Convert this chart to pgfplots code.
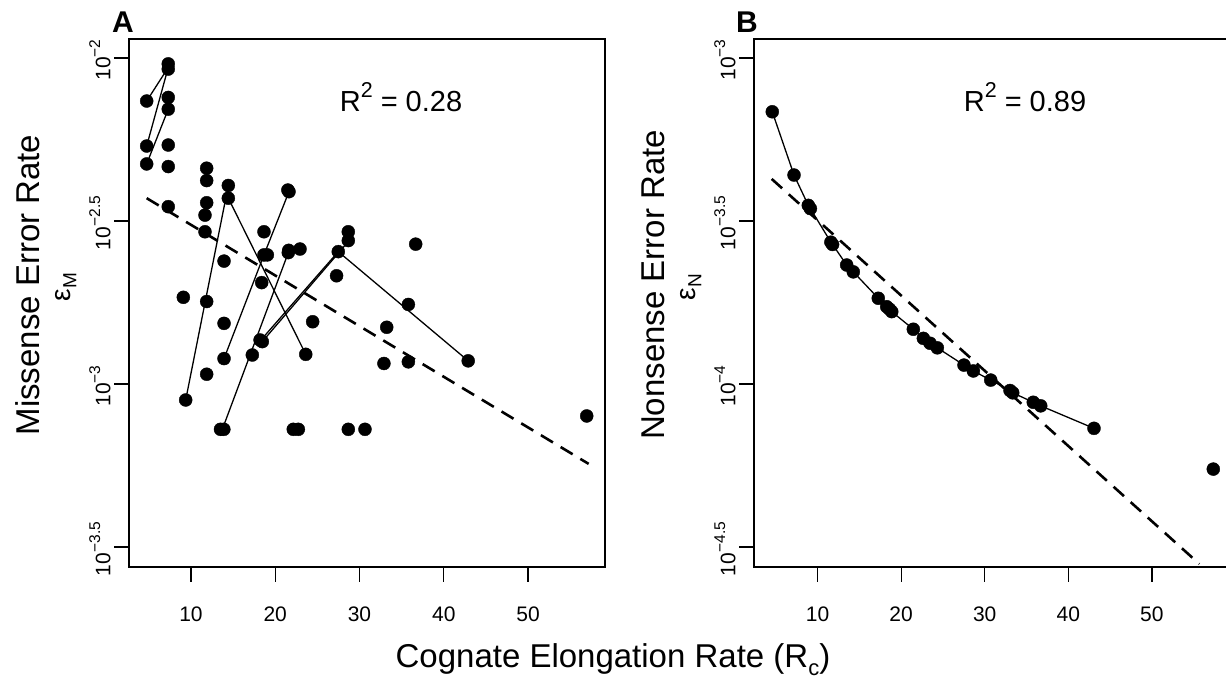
\documentclass[border=0pt]{standalone}
\usepackage{fontspec}
\setmainfont{Liberation Sans}
\usepackage{pgfplots}
\pgfplotsset{compat=1.18}

% superscript in the style of R's plotmath
\newcommand\ex[1]{\raisebox{0.48em}{\scalebox{0.74}{#1}}}

\pgfplotsset{
  rpanel/.style={
    scale only axis, height=528pt,
    axis line style={line width=1.4pt},
    tick style={line width=1.2pt, black},
    tick align=outside, major tick length=15pt,
    xtick pos=bottom, ytick pos=left,
    xtick={10,20,30,40,50},
    tick label style={font=\fontsize{21}{24}\selectfont},
    /pgf/number format/assume math mode=true,
    xticklabel style={anchor=north, yshift=-21pt},
    yticklabel style={rotate=90, anchor=south, xshift=-2pt},
  },
  dots/.style={only marks, mark=*, mark size=6.5pt, mark options={fill=black, draw=black}},
  link/.style={black, line width=1.3pt, no marks},
  fit/.style={black, line width=2.6pt, dash pattern=on 14pt off 9pt, no marks},
}

\begin{document}
\begin{tikzpicture}
% ---- panel A: missense ----
\begin{axis}[rpanel, name=pa, at={(129pt,115pt)}, anchor=south west, width=476pt,
  xmin=2.641, xmax=59.14, ymin=-3.5613, ymax=-1.9417,
  ytick={-3.5,-3,-2.5,-2},
  yticklabels={{10\ex{−3.5}},{10\ex{−3}},{10\ex{−2.5}},{10\ex{−2}}}]
  \addplot[fit] coordinates {(4.74,-2.43) (57.2,-3.245)};
  \addplot[link] coordinates {(4.74,-2.132) (7.3,-2.029)};
  \addplot[link] coordinates {(4.74,-2.27) (7.3,-2.029)};
  \addplot[link] coordinates {(4.74,-2.325) (7.3,-2.157)};
  \addplot[link] coordinates {(9.37,-3.049) (14.43,-2.391)};
  \addplot[link] coordinates {(14.43,-2.43) (23.62,-2.909)};
  \addplot[link] coordinates {(13.92,-2.922) (18.66,-2.604)};
  \addplot[link] coordinates {(13.72,-3.139) (21.55,-2.597)};
  \addplot[link] coordinates {(18.66,-2.604) (21.63,-2.41)};
  \addplot[link] coordinates {(18.46,-2.870) (28.67,-2.563)};
  \addplot[link] coordinates {(18.3,-2.865) (27.48,-2.594)};
  \addplot[link] coordinates {(27.48,-2.594) (42.9,-2.929)};
  \addplot[dots] coordinates {
    (4.74,-2.132) (7.3,-2.018) (7.3,-2.034) (7.3,-2.121) (7.3,-2.157)
    (4.74,-2.27) (7.3,-2.267) (4.74,-2.325) (7.3,-2.333) (7.3,-2.456)
    (11.86,-2.338) (11.86,-2.376) (11.86,-2.444) (11.66,-2.482) (11.66,-2.533)
    (14.43,-2.391) (14.43,-2.43) (21.63,-2.41) (21.5,-2.405) (18.66,-2.533)
    (28.67,-2.533) (28.67,-2.56) (27.48,-2.594) (13.92,-2.623) (18.66,-2.604)
    (19.06,-2.604) (21.55,-2.597) (21.6,-2.59) (22.94,-2.586) (9.09,-2.734)
    (11.86,-2.747) (18.39,-2.689) (27.28,-2.668) (13.92,-2.814) (24.44,-2.809)
    (18.46,-2.870) (18.2,-2.865) (13.92,-2.922) (17.28,-2.911) (23.62,-2.909)
    (11.86,-2.970) (9.37,-3.049) (13.5,-3.139) (13.9,-3.139) (22.14,-3.139)
    (22.74,-3.139) (28.67,-3.139) (30.65,-3.139) (36.67,-2.571) (35.8,-2.756)
    (33.23,-2.826) (32.9,-2.937) (35.8,-2.932) (42.9,-2.929) (56.97,-3.098)
  };
\end{axis}
% ---- panel B: nonsense ----
\begin{axis}[rpanel, name=pb, at={(754pt,115pt)}, anchor=south west, width=478pt,
  xmin=2.404, xmax=59.58, ymin=-4.5613, ymax=-2.9417,
  ytick={-4.5,-4,-3.5,-3},
  yticklabels={{10\ex{−4.5}},{10\ex{−4}},{10\ex{−3.5}},{10\ex{−3}}}]
  \addplot[fit] coordinates {(4.52,-3.371) (55.67,-4.552)};
  \addplot[link] coordinates {
    (4.59,-3.165) (7.19,-3.359) (8.9,-3.452) (9.15,-3.462) (11.6,-3.565)
    (11.8,-3.572) (13.49,-3.635) (14.28,-3.656) (17.27,-3.737) (18.28,-3.763)
    (18.6,-3.77) (18.88,-3.778) (21.46,-3.832) (22.66,-3.86) (23.46,-3.875)
    (24.33,-3.889) (27.52,-3.942) (28.64,-3.960) (30.72,-3.988) (33.03,-4.02)
    (33.35,-4.027) (35.81,-4.056) (36.7,-4.067) (43.07,-4.136)
  };
  \addplot[dots] coordinates {
    (4.59,-3.165) (7.19,-3.359) (8.9,-3.452) (9.15,-3.462) (11.6,-3.565)
    (11.8,-3.572) (13.49,-3.635) (14.28,-3.656) (17.27,-3.737) (18.28,-3.763)
    (18.6,-3.77) (18.88,-3.778) (21.46,-3.832) (22.66,-3.86) (23.46,-3.875)
    (24.33,-3.889) (27.52,-3.942) (28.64,-3.960) (30.72,-3.988) (33.03,-4.02)
    (33.35,-4.027) (35.81,-4.056) (36.7,-4.067) (43.07,-4.136) (57.34,-4.261)
  };
\end{axis}
% ---- texts ----
\node[font=\fontsize{29}{32}\selectfont] at (401pt,585pt) {R\ex{2} = 0.28};
\node[font=\fontsize{29}{32}\selectfont] at (1025pt,585pt) {R\ex{2} = 0.89};
\node[font=\fontsize{30}{32}\selectfont\bfseries] at (123pt,660pt) {A};
\node[font=\fontsize{30}{32}\selectfont\bfseries] at (747pt,660pt) {B};
\node[rotate=90, font=\fontsize{33}{36}\selectfont] at (28pt,397pt) {Missense Error Rate};
\node[rotate=90, font=\fontsize{28}{30}\selectfont] at (66pt,395pt) {ε\raisebox{-0.2em}{\fontsize{19}{19}\selectfont M}};
\node[rotate=90, font=\fontsize{33}{36}\selectfont] at (653pt,397pt) {Nonsense Error Rate};
\node[rotate=90, font=\fontsize{28}{30}\selectfont] at (691pt,395pt) {ε\raisebox{-0.2em}{\fontsize{19}{19}\selectfont N}};
\node[font=\fontsize{33}{36}\selectfont] at (613pt,22pt) {Cognate Elongation Rate (R\raisebox{-0.25em}{\fontsize{22}{22}\selectfont c})};
\pgfresetboundingbox
\useasboundingbox (0,0) rectangle (1226pt,682pt);
\end{tikzpicture}
\end{document}
